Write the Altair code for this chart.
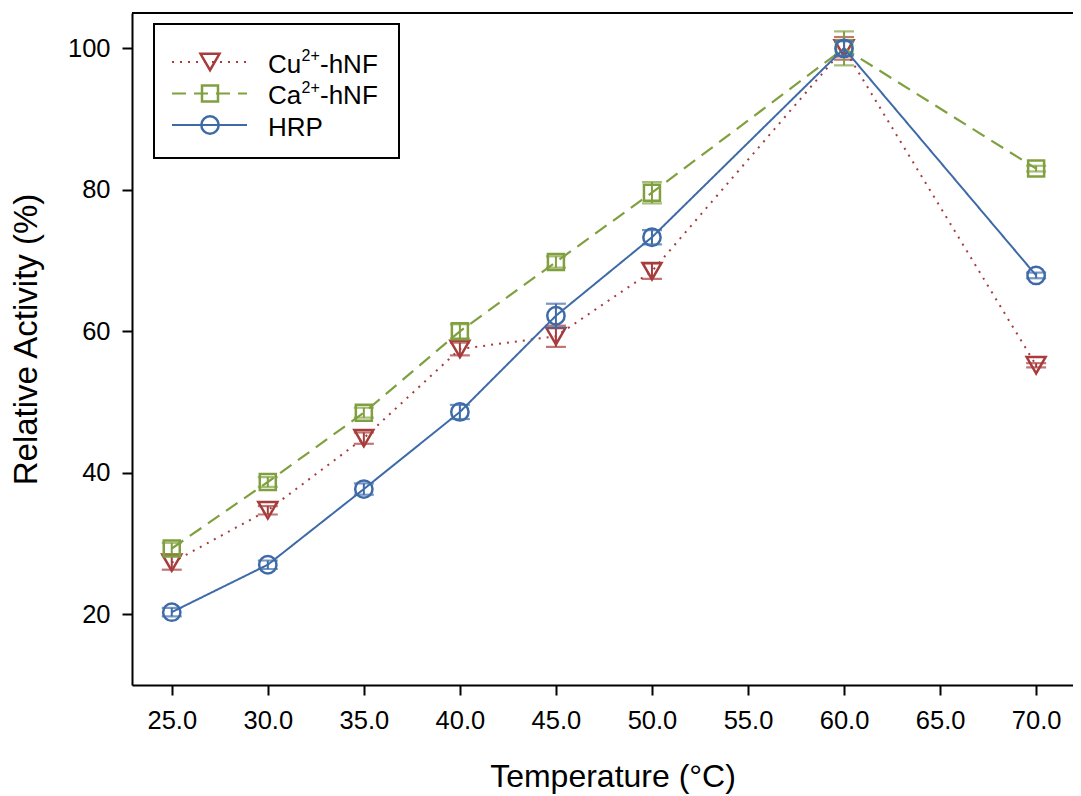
import altair as alt
import pandas as pd

# ---- data ----
temps = [25, 30, 35, 40, 45, 50, 60, 70]
cu_vals = [27.3, 34.7, 44.9, 57.5, 59.3, 68.5, 100.0, 55.2]
cu_err = [1.0, 0.6, 0.8, 0.9, 1.5, 1.1, 1.6, 0.3]
ca_vals = [29.3, 38.7, 48.5, 60.0, 69.8, 79.6, 100.0, 83.0]
ca_err = [0.8, 0.7, 0.7, 1.0, 0.8, 1.5, 2.4, 0.4]
hrp_vals = [20.3, 27.0, 37.7, 48.6, 62.2, 73.3, 100.0, 67.9]
hrp_err = [0.6, 0.6, 0.8, 1.0, 1.7, 1.0, 1.0, 0.4]

x_ticks = [25, 30, 35, 40, 45, 50, 55, 60, 65, 70]
y_ticks = [20, 40, 60, 80, 100]

series = [
    # name base, superscript, suffix, values, errors, color, shape, size, dash, line width
    ("Cu", "2+", "-hNF", cu_vals, cu_err, "#A63C3C", "triangle-down", 360, [2, 6], 2),
    ("Ca", "2+", "-hNF", ca_vals, ca_err, "#80A040", "square", 256, [14, 8], 2.2),
    ("HRP", "", "", hrp_vals, hrp_err, "#3E6BA8", "circle", 300, [1, 0], 2),
]

FONT = "Liberation Sans"
W, H = 941, 672

xs = alt.Scale(domain=[22.93, 71.92], nice=False, zero=False)
ys = alt.Scale(domain=[10, 105], nice=False, zero=False)

x_axis = alt.Axis(
    values=x_ticks, format=".1f", grid=False, tickSize=10, tickWidth=2,
    tickColor="black", domainColor="black", domainWidth=2,
    labelFontSize=25.5, labelPadding=13, labelColor="black", labelFont=FONT,
    titleFontSize=32, titleFontWeight="normal", titleFont=FONT, titleColor="black",
    titleBaseline="alphabetic", titleY=101.7, titleX=480.5,
)
y_axis = alt.Axis(
    values=y_ticks, grid=False, tickSize=10, tickWidth=2,
    tickColor="black", domainColor="black", domainWidth=2,
    labelFontSize=25.5, labelPadding=12, labelColor="black", labelFont=FONT,
    titleFontSize=33, titleFontWeight="normal", titleFont=FONT, titleColor="black",
    titleBaseline="alphabetic", titleX=-95.5, titleY=326,
)


def X():
    return alt.X("temp:Q", scale=xs, axis=x_axis, title="Temperature (°C)")


def Y(field="value"):
    return alt.Y(f"{field}:Q", scale=ys, axis=y_axis, title="Relative Activity (%)")


layers = []

# top frame line
layers.append(
    alt.Chart(pd.DataFrame({"a": [0]})).mark_rule(color="black", strokeWidth=2).encode(
        x=alt.value(0), x2=alt.value(W), y=alt.value(0)
    )
)

for base, sup, suf, vals, errs, col, shp, sz, dash, lw in series:
    df = pd.DataFrame({
        "temp": temps,
        "value": vals,
        "lo": [v - e for v, e in zip(vals, errs)],
        "hi": [v + e for v, e in zip(vals, errs)],
    })
    c = alt.Chart(df)
    layers.append(
        c.mark_line(color=col, strokeWidth=lw, strokeDash=dash).encode(x=X(), y=Y())
    )
    layers.append(
        c.mark_rule(color=col, strokeWidth=2).encode(x=X(), y=Y("lo"), y2="hi:Q")
    )
    layers.append(
        c.mark_tick(color=col, orient="horizontal", size=20, thickness=2.2).encode(x=X(), y=Y("lo"))
    )
    layers.append(
        c.mark_tick(color=col, orient="horizontal", size=20, thickness=2.2).encode(x=X(), y=Y("hi"))
    )
    layers.append(
        c.mark_point(shape=shp, size=sz, filled=False, color=col, strokeWidth=2.5, opacity=1).encode(
            x=X(), y=Y()
        )
    )

# ---- manual legend (for superscripts) ----
one = pd.DataFrame({"a": [0]})
layers.append(
    alt.Chart(one).mark_rect(fill="white", stroke="black", strokeWidth=2).encode(
        x=alt.value(22), x2=alt.value(267), y=alt.value(11), y2=alt.value(145)
    )
)
row_y = [49, 80.5, 112]
for (base, sup, suf, vals, errs, col, shp, sz, dash, lw), ry in zip(series, row_y):
    layers.append(
        alt.Chart(one).mark_rule(color=col, strokeWidth=lw, strokeDash=dash).encode(
            x=alt.value(40), x2=alt.value(115), y=alt.value(ry)
        )
    )
    layers.append(
        alt.Chart(one).mark_point(shape=shp, size=sz, filled=False, color=col, strokeWidth=2.5, opacity=1).encode(
            x=alt.value(78), y=alt.value(ry)
        )
    )
    bl = ry + 10.5
    layers.append(
        alt.Chart(one).mark_text(text=base, font=FONT, fontSize=26, align="left", baseline="alphabetic", color="black").encode(
            x=alt.value(136), y=alt.value(bl)
        )
    )
    if sup:
        layers.append(
            alt.Chart(one).mark_text(text=sup, font=FONT, fontSize=16, align="left", baseline="alphabetic", color="black").encode(
                x=alt.value(169.5), y=alt.value(bl - 11.5)
            )
        )
        layers.append(
            alt.Chart(one).mark_text(text=suf, font=FONT, fontSize=26, align="left", baseline="alphabetic", color="black").encode(
                x=alt.value(188), y=alt.value(bl)
            )
        )

chart = alt.layer(*layers).properties(
    width=W, height=H,
    autosize=alt.AutoSizeParams(type="none"),
    padding={"left": 124, "top": 5, "right": 0, "bottom": 110},
).configure_view(stroke=None).configure(font=FONT, background="white")

chart.save("out.html", embed_options={"renderer": "svg", "actions": False})
